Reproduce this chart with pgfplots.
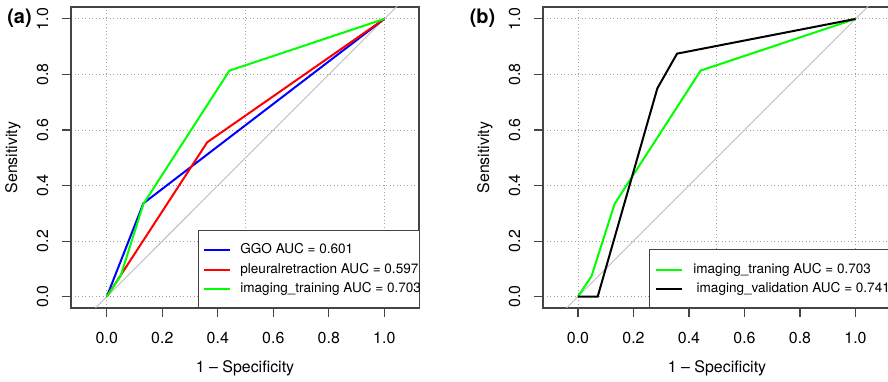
\documentclass[border=0pt]{standalone}
\usepackage{fontspec}
\setmainfont{TeX Gyre Heros}
\usepackage{pgfplots}
\pgfplotsset{compat=1.18}
\definecolor{boxcol}{HTML}{444444}
\definecolor{gridcol}{HTML}{A0A0A0}
\definecolor{diagcol}{HTML}{BEBEBE}
\definecolor{rgreen}{RGB}{0,255,0}
\definecolor{rblue}{RGB}{0,0,255}
\definecolor{rred}{RGB}{255,0,0}
\pgfplotsset{
  rocstyle/.style={
    scale only axis, width=348bp, height=301bp,
    ymin=-0.041, ymax=1.043,
    xtick={0,0.2,0.4,0.6,0.8,1}, ytick={0,0.2,0.4,0.6,0.8,1},
    xticklabels={0.0,0.2,0.4,0.6,0.8,1.0},
    yticklabels={0.0,0.2,0.4,0.6,0.8,1.0},
    minor xtick={0,0.5,1}, xminorgrids=true, ymajorgrids=true, xmajorgrids=false,
    minor tick length=0pt,
    major grid style={gridcol, line width=0.9bp, dash pattern=on 0.9bp off 2.6bp},
    minor grid style={gridcol, line width=0.9bp, dash pattern=on 0.9bp off 2.6bp},
    tick align=outside, tick pos=left, major tick length=9bp,
    axis line style={boxcol, line width=1.3bp},
    major tick style={boxcol, line width=1.1bp},
    tick label style={font=\fontsize{16}{19}\selectfont},
    xticklabel style={anchor=north, inner sep=0pt},
    yticklabel style={rotate=90, anchor=south, inner sep=0pt},
    xticklabel shift=15.4bp,
    yticklabel shift=13.4bp,
    label style={font=\fontsize{16}{19}\selectfont},
    xlabel={1 \textendash\ Specificity}, ylabel={Sensitivity},
    xlabel style={at={(axis description cs:0.5,-0.1993)}, anchor=center},
    ylabel style={at={(axis description cs:-0.1667,0.5)}, anchor=center},
    legend image code/.code={\draw[#1] (0bp,0bp) -- (25.5bp,0bp);},
    legend cell align=left,
  }
}
\begin{document}
\begin{tikzpicture}
% ---------------- panel (a)
\begin{axis}[rocstyle, at={(71bp,74bp)}, anchor=south west,
  xmin=-0.129, xmax=1.125,
  legend style={at={(axis description cs:0.3793,0.2143)}, anchor=north west,
    draw=none, fill=none, inner sep=0pt, row sep=6.5bp, column sep=9.7bp,
    font=\fontsize{13.6}{16}\selectfont,
    nodes={inner sep=0pt, text height=10bp, text depth=3bp}},
]
\addplot[diagcol, line width=0.9bp, forget plot] coordinates {(-0.3,-0.3) (1.3,1.3)};
\addplot[rblue, line width=2bp] coordinates {(0,0) (0.132,0.336) (1,1)};
\addlegendentry{GGO AUC = 0.601}
\addplot[rred, line width=2bp] coordinates {(0,0) (0.362,0.556) (1,1)};
\addlegendentry{pleuralretraction AUC = 0.597}
\addplot[rgreen, line width=2bp] coordinates {(0,0) (0.050,0.075) (0.132,0.334) (0.442,0.814) (1,1)};
\addlegendentry{imaging\_training AUC = 0.703}
\draw[boxcol, line width=1bp, fill=white] (axis description cs:0.366,0) rectangle (axis description cs:1,0.259);
\end{axis}
% ---------------- panel (b)
\begin{axis}[rocstyle, at={(543bp,74bp)}, anchor=south west,
  xmin=-0.126, xmax=1.128,
  legend style={at={(axis description cs:0.3218,0.150)}, anchor=north west,
    draw=none, fill=none, inner sep=0pt, row sep=6.5bp, column sep=10.7bp,
    font=\fontsize{13.6}{16}\selectfont,
    nodes={inner sep=0pt, text height=10bp, text depth=3bp}},
]
\addplot[diagcol, line width=0.9bp, forget plot] coordinates {(-0.3,-0.3) (1.3,1.3)};
\addplot[rgreen, line width=2bp] coordinates {(0,0) (0.049,0.074) (0.132,0.334) (0.442,0.814) (1,1)};
\addlegendentry{imaging\_traning AUC = 0.703}
\addplot[black, line width=2bp] coordinates {(0,0) (0.071,0) (0.286,0.750) (0.357,0.875) (1,1)};
\addlegendentry{\hspace{3.3bp}imaging\_validation AUC = 0.741}
\draw[boxcol, line width=1bp, fill=white] (axis description cs:0.3055,0) rectangle (axis description cs:1.2,0.195);
\end{axis}
\node[font=\bfseries\fontsize{20}{24}\selectfont, inner sep=0pt] at (19.5bp,364bp) {(a)};
\node[font=\bfseries\fontsize{20}{24}\selectfont, inner sep=0pt] at (482.5bp,364bp) {(b)};
\pgfresetboundingbox
\path[use as bounding box] (0bp,0bp) rectangle (888bp,382bp);
\end{tikzpicture}
\end{document}
